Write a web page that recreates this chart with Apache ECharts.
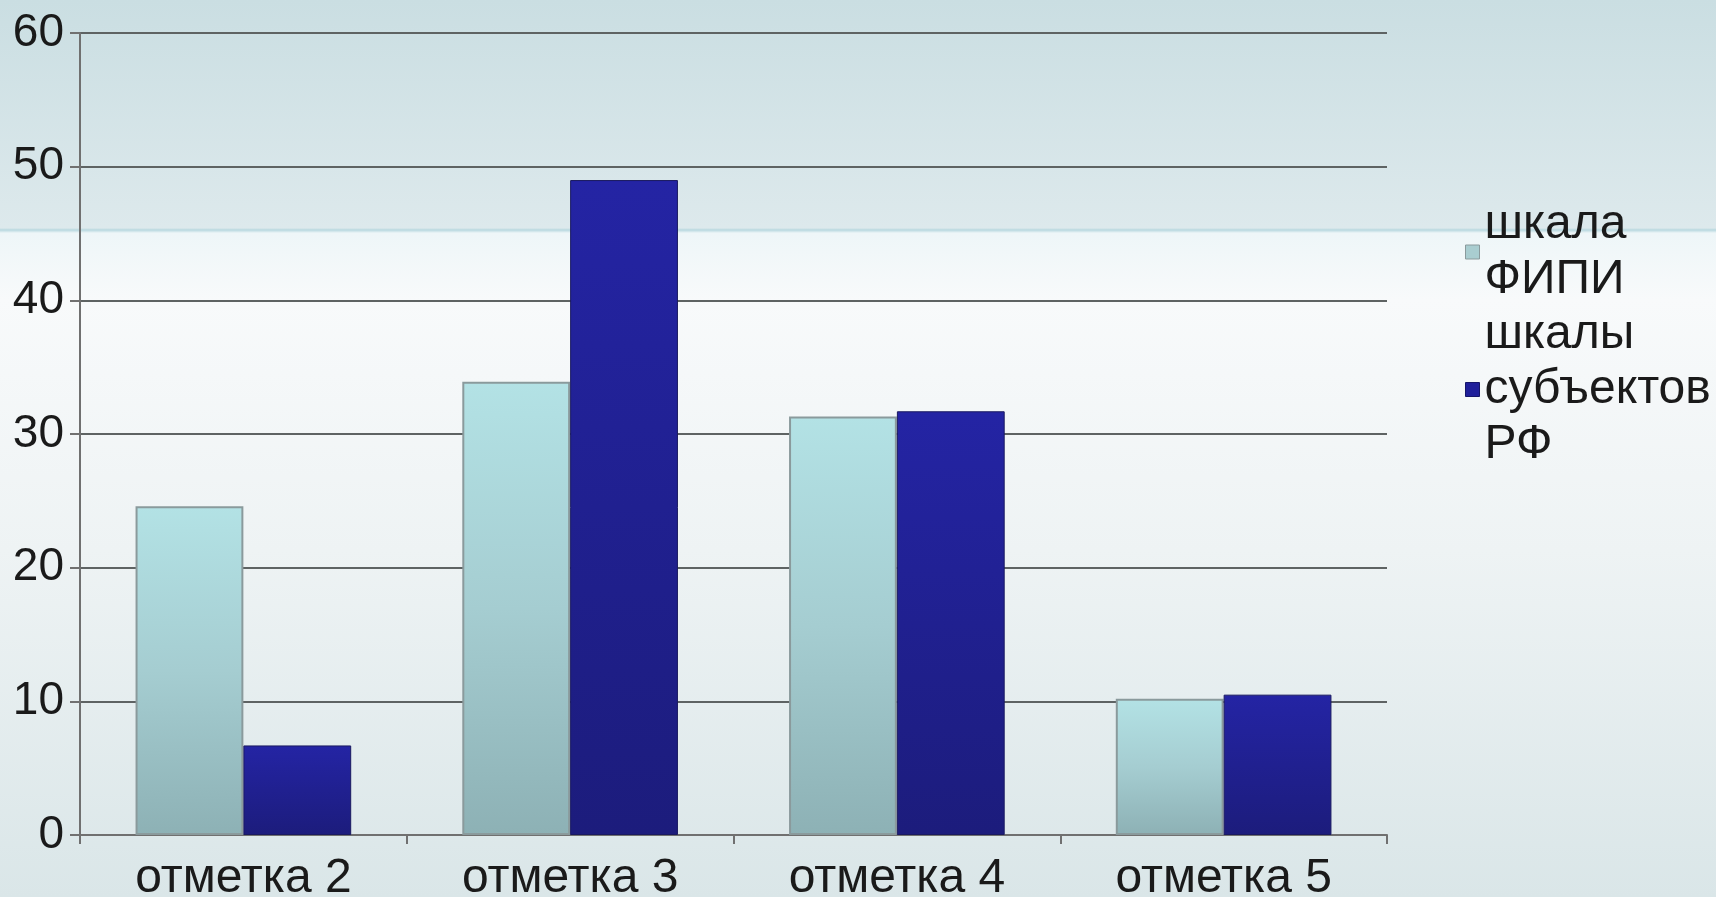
<!DOCTYPE html>
<html>
<head>
<meta charset="utf-8">
<script src="https://cdn.jsdelivr.net/npm/echarts@6/dist/echarts.min.js"></script>
<style>
	html,body{margin:0;padding:0;width:100%;height:100%;}
	body{
		background:linear-gradient(to bottom,#cadee2 0px,#dde9ec 228px,#b8d8df 230px,#eef6f8 233px,#f8fafb 300px,#eef3f4 550px,#dae6e8 897px);
	}
	#barChart{width:1716px;height:897px;}
</style>
</head>
<body>
<div id="barChart"></div>
<script>
// данные диаграммы
let categories = ['отметка 2','отметка 3','отметка 4','отметка 5'];
let seriesNames = ['шкала\nФИПИ','шкалы\nсубъектов\nРФ'];
let fipiValues = [24.6, 33.9, 31.3, 10.2];
let regionValues = [6.7, 49.0, 31.7, 10.5];
let yTicks = [0, 10, 20, 30, 40, 50, 60];

let barChart = echarts.init(document.getElementById('barChart'));
let font = 'Liberation Sans';
let option = {
	backgroundColor:'transparent',
	animation:false,
	grid:{left:80,right:329,top:33,bottom:62,outerBoundsMode:'none'},
	legend:{
		orient:'vertical',
		left:1460,
		top:192,
		itemWidth:14,
		itemHeight:14,
		itemGap:0,
		icon:'rect',
		textStyle:{fontFamily:font,fontSize:48,color:'#1a1a1a',lineHeight:55},
		data:[
			{name:seriesNames[0],itemStyle:{color:'#a9cdd0',borderColor:'#8a9a9c',borderWidth:1}},
			{name:seriesNames[1],itemStyle:{color:'#1f1f9a',borderColor:'#15156a',borderWidth:1}}
		]
	},
	xAxis:{
		type:'category',
		data:categories,
		axisLine:{lineStyle:{color:'#707070',width:2}},
		axisTick:{show:true,length:9,lineStyle:{color:'#707070',width:2}},
		axisLabel:{fontFamily:font,fontSize:48,color:'#1a1a1a',margin:20}
	},
	yAxis:{
		type:'value',
		min:yTicks[0],
		max:yTicks[yTicks.length-1],
		interval:10,
		axisLine:{show:true,lineStyle:{color:'#707070',width:2}},
		axisTick:{show:true,length:10,lineStyle:{color:'#707070',width:2}},
		axisLabel:{fontFamily:font,fontSize:46,color:'#1a1a1a',margin:16},
		splitLine:{lineStyle:{color:'#5e6363',width:2}}
	},
	series:[
		{
			name:seriesNames[0],
			type:'bar',
			barGap:'0%',
			barCategoryGap:'34%',
			data:fipiValues,
			itemStyle:{
				color:new echarts.graphic.LinearGradient(0,0,0,1,[
					{offset:0,color:'#b3e2e5'},
					{offset:0.5,color:'#a5cdd1'},
					{offset:1,color:'#8db1b5'}
				]),
				borderColor:'#8a9a9c',
				borderWidth:2
			}
		},
		{
			name:seriesNames[1],
			type:'bar',
			data:regionValues,
			itemStyle:{
				color:new echarts.graphic.LinearGradient(0,0,0,1,[
					{offset:0,color:'#2424a4'},
					{offset:1,color:'#1c1c7c'}
				]),
				borderColor:'#1a1a60',
				borderWidth:1
			}
		}
	]
};
barChart.setOption(option);
</script>
</body>
</html>
